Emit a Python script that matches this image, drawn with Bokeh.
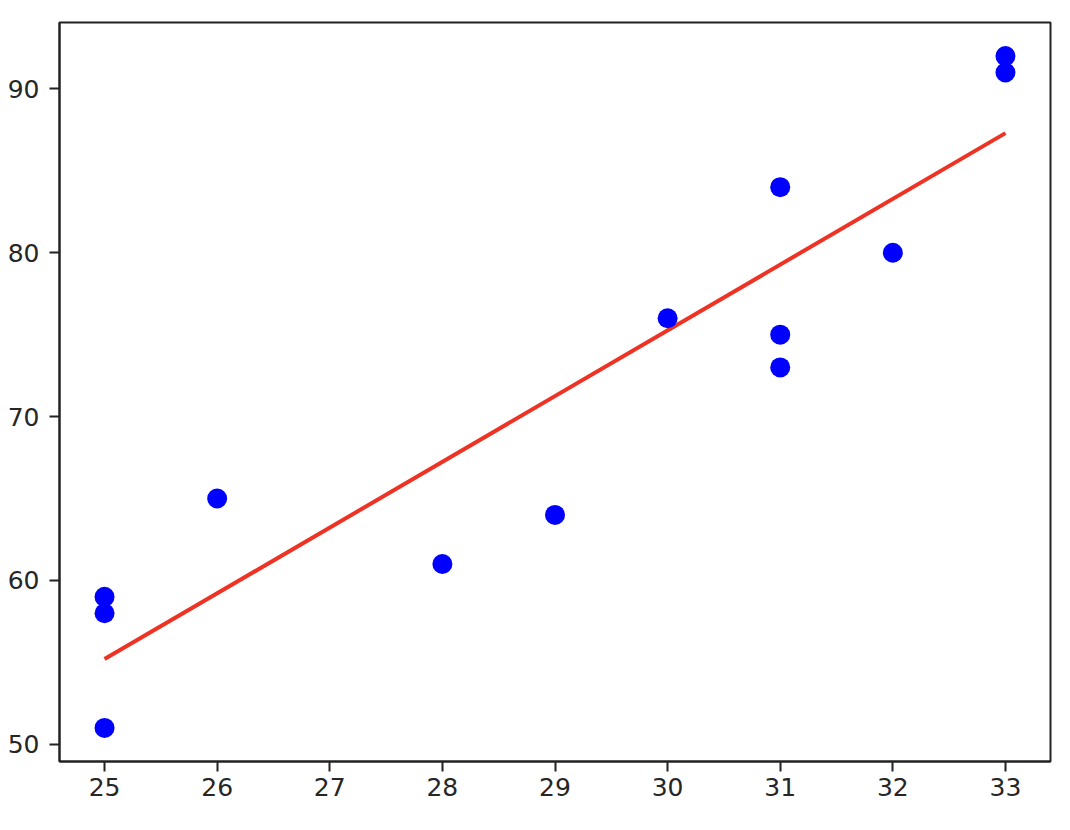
from bokeh.plotting import figure
from bokeh.models import Range1d, FixedTicker
from bokeh.embed import file_html
from bokeh.resources import INLINE

# data
age = [25, 25, 25, 26, 28, 29, 30, 31, 31, 31, 32, 33, 33]
score = [59, 58, 51, 65, 61, 64, 76, 84, 75, 73, 80, 92, 91]
fit_x = [25, 33]
fit_y = [55.2, 87.3]
x_ticks = [25, 26, 27, 28, 29, 30, 31, 32, 33]
y_ticks = [50, 60, 70, 80, 90]

p = figure(width=1058, height=820, output_backend="svg", toolbar_location=None,
           x_range=Range1d(24.6, 33.4), y_range=Range1d(48.95, 94.05),
           min_border_left=59, min_border_top=22, min_border_right=8, min_border_bottom=59)
p.background_fill_color = "white"
p.border_fill_color = "white"
p.grid.visible = False
p.outline_line_color = "#222222"
p.outline_line_width = 2
p.outline_line_alpha = 1

p.line(fit_x, fit_y, line_color="#ee3224", line_width=4)
p.scatter(age, score, size=20, fill_color="#0000ff", line_color=None)

for ax in (p.xaxis[0], p.yaxis[0]):
    ax.axis_line_color = "#222222"
    ax.axis_line_width = 2
    ax.major_tick_line_color = "#222222"
    ax.major_tick_line_width = 2
    ax.major_tick_out = 10
    ax.major_tick_in = 0
    ax.minor_tick_line_color = None
    ax.major_label_text_font = "DejaVu Sans"
    ax.major_label_text_font_size = "25px"
    ax.major_label_text_color = "#262626"

p.xaxis[0].ticker = FixedTicker(ticks=x_ticks)
p.yaxis[0].ticker = FixedTicker(ticks=y_ticks)
p.xaxis[0].major_label_standoff = 6
p.yaxis[0].major_label_standoff = 10

open("out.html", "w").write(file_html(p, INLINE))
